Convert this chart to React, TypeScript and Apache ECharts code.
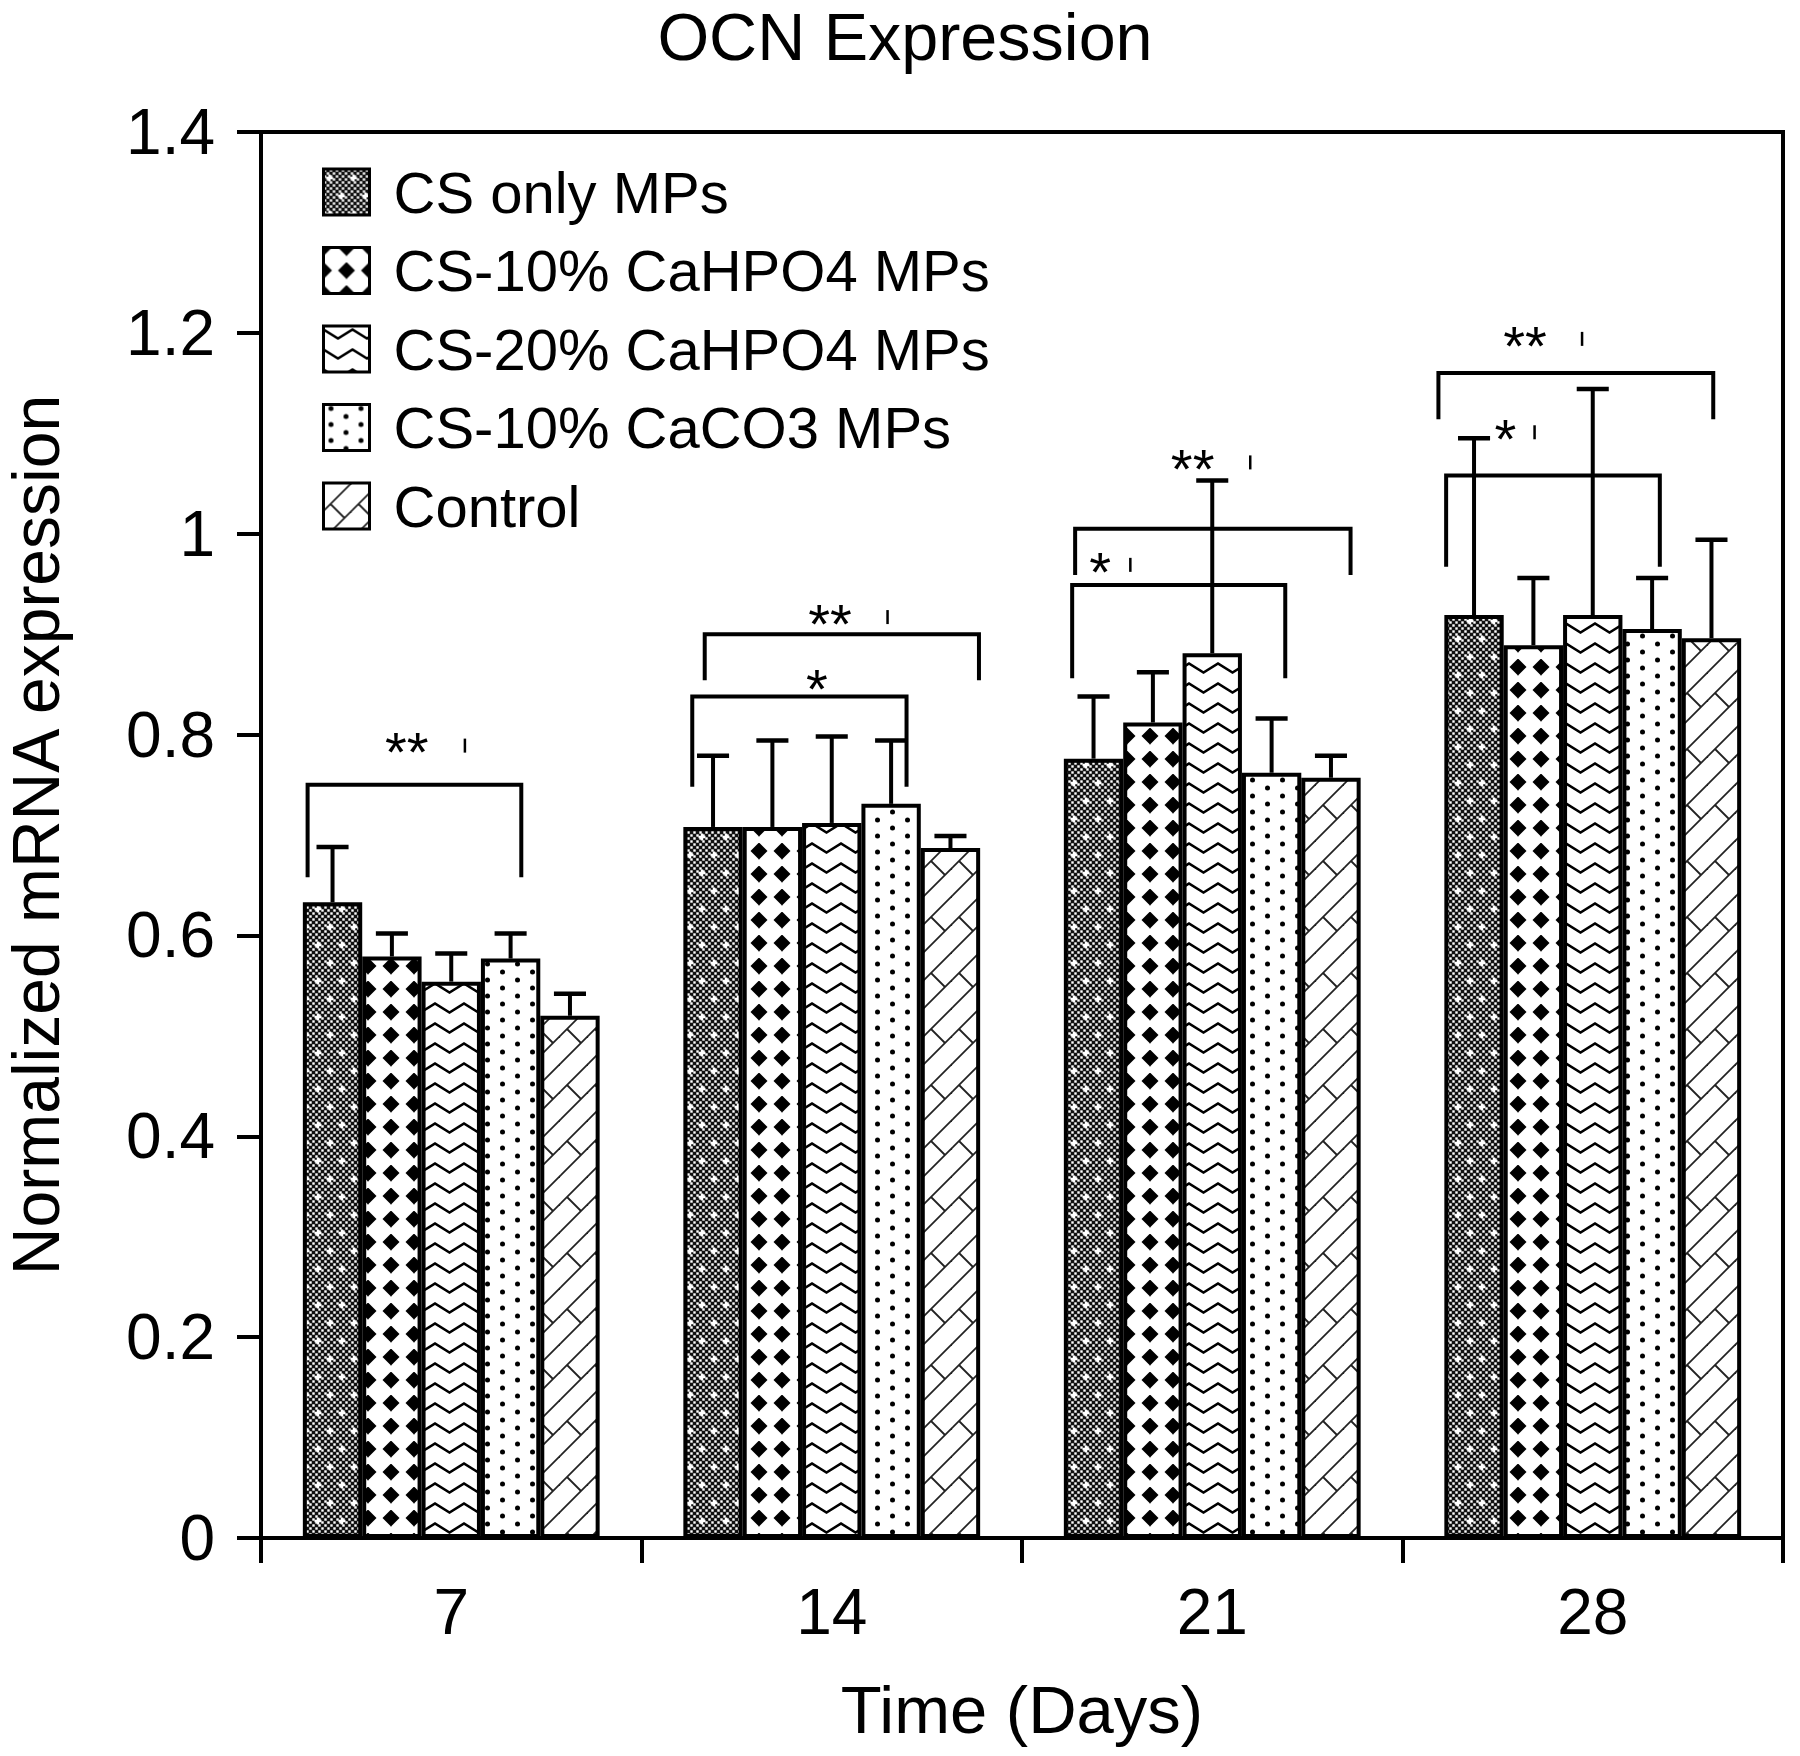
import React, { useEffect, useRef } from 'react';
import * as echarts from 'echarts';

// ---------- data ----------
const categories = ['7', '14', '21', '28'];
const seriesNames = ['CS only MPs', 'CS-10% CaHPO4 MPs', 'CS-20% CaHPO4 MPs', 'CS-10% CaCO3 MPs', 'Control'];

const csOnly = [0.633, 0.708, 0.776, 0.919];
const cs10CaHPO4 = [0.579, 0.708, 0.812, 0.889];
const cs20CaHPO4 = [0.554, 0.712, 0.881, 0.919];
const cs10CaCO3 = [0.577, 0.731, 0.762, 0.905];
const control = [0.52, 0.687, 0.757, 0.896];

// upper error (SD)
const csOnlyErr = [0.055, 0.071, 0.062, 0.176];
const cs10CaHPO4Err = [0.023, 0.086, 0.05, 0.067];
const cs20CaHPO4Err = [0.028, 0.086, 0.172, 0.225];
const cs10CaCO3Err = [0.025, 0.063, 0.054, 0.051];
const controlErr = [0.022, 0.012, 0.022, 0.098];

const yTicks = { min: 0, max: 1.4, interval: 0.2 };

// significance brackets (positions in bar slots: 0 = first bar of the group, 4 = last)
const sigCategory = [0, 1, 1, 2, 2, 3, 3];
const sigLabel = ['**', '**', '*', '**', '*', '**', '*'];
const sigFrom = [-0.42, -0.14, -0.35, -0.31, -0.36, -0.6, -0.47];
const sigTo = [3.18, 4.48, 3.26, 4.33, 3.23, 4.03, 3.13];
const sigTop = [0.75, 0.9, 0.838, 1.005, 0.949, 1.16, 1.058];
const sigLegEnd = [0.658, 0.854, 0.748, 0.959, 0.856, 1.114, 0.967];
const sigTextAt = [1.25, 1.97, 1.75, 1.67, 0.11, 0.86, 0.53];
const sigTextY = [0.789, 0.917, 0.852, 1.071, 0.969, 1.194, 1.101];
const sigMarkAt: (number | null)[] = [2.23, 2.94, null, 2.64, 0.62, 1.82, 1.02];

const values = [csOnly, cs10CaHPO4, cs20CaHPO4, cs10CaCO3, control];
const errors = [csOnlyErr, cs10CaHPO4Err, cs20CaHPO4Err, cs10CaCO3Err, controlErr];

// ---------- styling ----------
const FONT = '"Liberation Sans", Arial, Helvetica, sans-serif';
const CAT_GAP = 0.22;
const STAR_SIZE = 56;

function svgUrl(svg: string) {
  return 'data:image/svg+xml;charset=utf-8,' + encodeURIComponent(svg);
}
function pat(svg: string, w: number, h: number) {
  return { image: svgUrl(svg), repeat: 'repeat', imageWidth: w, imageHeight: h };
}

function meshPattern() {
  let cells = '';
  for (let i = 0; i < 8; i++) {
    for (let j = 0; j < 12; j++) {
      if ((i + j) % 2 === 0) cells += `<rect x='${i * 3 + 0.3}' y='${j * 3 + 0.3}' width='2.4' height='2.4' fill='#fff'/>`;
    }
  }
  const star = (x: number, y: number) =>
    `<path d='M${x - 1.2} ${y - 3.5}h2.4v2.3h2.3v2.4h-2.3v2.3h-2.4v-2.3h-2.3v-2.4h2.3z' fill='#fff'/>`;
  const svg = `<svg xmlns='http://www.w3.org/2000/svg' width='24' height='36'><rect width='24' height='36' fill='#111'/>${cells}${star(6, 9)}${star(18, 27)}</svg>`;
  return pat(svg, 24, 36);
}
function octagonPattern() {
  const svg = `<svg xmlns='http://www.w3.org/2000/svg' width='23' height='23'><rect width='23' height='23' fill='#000'/><polygon points='8.5,0 14.5,0 23,8.5 23,14.5 14.5,23 8.5,23 0,14.5 0,8.5' fill='#fff'/></svg>`;
  return pat(svg, 23, 23);
}
function zigzagPattern() {
  const svg = `<svg xmlns='http://www.w3.org/2000/svg' width='29' height='20'><rect width='29' height='20' fill='#fff'/><polyline points='-14.5,12.5 0,3.5 14.5,12.5 29,3.5 43.5,12.5' fill='none' stroke='#000' stroke-width='2.5'/></svg>`;
  return pat(svg, 29, 20);
}
function dotPattern() {
  const svg = `<svg xmlns='http://www.w3.org/2000/svg' width='30' height='16'><rect width='30' height='16' fill='#fff'/><circle cx='7.5' cy='4' r='2.5' fill='#000'/><circle cx='22.5' cy='12' r='2.5' fill='#000'/></svg>`;
  return pat(svg, 30, 16);
}
function brickPattern() {
  const st = `stroke='#222' stroke-width='1.8' fill='none'`;
  const svg = `<svg xmlns='http://www.w3.org/2000/svg' width='28' height='56'><rect width='28' height='56' fill='#fff'/>` +
    `<line x1='-4' y1='32' x2='32' y2='-4' ${st}/>` +
    `<line x1='-4' y1='60' x2='32' y2='24' ${st}/>` +
    `<line x1='-4' y1='4' x2='4' y2='-4' ${st}/>` +
    `<line x1='24' y1='60' x2='32' y2='52' ${st}/>` +
    `<line x1='7' y1='21' x2='21' y2='35' ${st}/>` +
    `</svg>`;
  return pat(svg, 28, 56);
}

const patterns = [meshPattern(), octagonPattern(), zigzagPattern(), dotPattern(), brickPattern()];

function buildOption() {
  const n = seriesNames.length;
  const barSeries = seriesNames.map((name, s) => ({
    type: 'bar',
    name,
    data: values[s],
    barGap: '0%',
    barCategoryGap: `${CAT_GAP * 100}%`,
    itemStyle: { color: patterns[s], borderColor: '#000', borderWidth: 4 },
    emphasis: { disabled: true },
    z: 2,
  }));

  const errData: number[][] = [];
  for (let s = 0; s < n; s++) {
    for (let c = 0; c < categories.length; c++) {
      errData.push([c, s, values[s][c], values[s][c] + errors[s][c]]);
    }
  }

  const errSeries = {
    type: 'custom',
    name: 'errors',
    data: errData,
    encode: { x: 0, y: 3 },
    z: 3,
    silent: true,
    renderItem: (params: any, api: any) => {
      const cat = api.value(0);
      const s = api.value(1);
      const mean = api.value(2);
      const up = api.value(3);
      const band = api.size([1, 0])[0];
      const bw = (band * (1 - CAT_GAP)) / n;
      const cx = api.coord([cat, 0])[0] + (s - (n - 1) / 2) * bw;
      const y0 = api.coord([cat, mean])[1];
      const y1 = api.coord([cat, up])[1];
      const half = bw * 0.27;
      return {
        type: 'group',
        children: [
          { type: 'line', shape: { x1: cx, y1: y0, x2: cx, y2: y1 }, style: { stroke: '#000', lineWidth: 4 } },
          { type: 'line', shape: { x1: cx - half, y1: y1, x2: cx + half, y2: y1 }, style: { stroke: '#000', lineWidth: 4.5 } },
        ],
      };
    },
  };

  const sigSeries = {
    type: 'custom',
    name: 'significance',
    data: sigCategory.map((c, i) => [c, sigTop[i]]),
    encode: { x: 0, y: 1 },
    z: 4,
    silent: true,
    renderItem: (params: any, api: any) => {
      const i = params.dataIndex;
      const cat = sigCategory[i];
      const band = api.size([1, 0])[0];
      const bw = (band * (1 - CAT_GAP)) / n;
      const cx = api.coord([cat, 0])[0];
      const px = (p: number) => cx + (p - (n - 1) / 2) * bw;
      const yTop = api.coord([cat, sigTop[i]])[1];
      const yLeg = api.coord([cat, sigLegEnd[i]])[1];
      const xl = px(sigFrom[i]);
      const xr = px(sigTo[i]);
      const ty = api.coord([cat, sigTextY[i]])[1];
      const children: any[] = [
        {
          type: 'polyline',
          shape: { points: [[xl, yLeg], [xl, yTop], [xr, yTop], [xr, yLeg]] },
          style: { stroke: '#000', lineWidth: 4, fill: null, lineJoin: 'miter' },
        },
        {
          type: 'text',
          x: px(sigTextAt[i]),
          y: ty + 0.11 * STAR_SIZE,
          style: {
            text: sigLabel[i],
            fill: '#000',
            fontSize: STAR_SIZE,
            lineHeight: 30,
            fontFamily: FONT,
            align: 'center',
            verticalAlign: 'middle',
          },
        },
      ];
      const m = sigMarkAt[i];
      if (m != null) {
        const mx = px(m);
        children.push({
          type: 'line',
          shape: { x1: mx, y1: ty - 7, x2: mx, y2: ty + 7 },
          style: { stroke: '#000', lineWidth: 2.5 },
        });
      }
      return { type: 'group', children };
    },
  };

  return {
    animation: false,
    backgroundColor: '#fff',
    title: {
      text: 'OCN Expression',
      left: 900,
      top: -2,
      textAlign: 'center',
      textStyle: { fontSize: 66.5, fontWeight: 'normal', color: '#000', fontFamily: FONT },
    },
    legend: {
      data: seriesNames,
      orient: 'vertical',
      left: 322,
      top: 163,
      padding: 0,
      itemWidth: 46,
      itemHeight: 46,
      itemGap: 20.5,
      icon: 'rect',
      selectedMode: false,
      itemStyle: { borderColor: '#000', borderWidth: 3 },
      textStyle: { fontSize: 58, color: '#000', fontFamily: FONT, padding: [0, 0, 0, 19] },
    },
    grid: {
      left: 261,
      right: 17,
      top: 132,
      bottom: 218,
      show: true,
      borderColor: '#000',
      borderWidth: 4,
      containLabel: false,
      outerBoundsMode: 'none',
    },
    xAxis: {
      type: 'category',
      data: categories,
      name: 'Time (Days)',
      nameLocation: 'middle',
      nameGap: 138,
      nameTextStyle: { fontSize: 67, color: '#000', fontFamily: FONT },
      axisLine: { lineStyle: { color: '#000', width: 4 } },
      axisTick: { show: true, length: 25, lineStyle: { color: '#000', width: 4 } },
      axisLabel: { fontSize: 64, color: '#000', fontFamily: FONT, margin: 42 },
      splitLine: { show: false },
    },
    yAxis: {
      type: 'value',
      min: yTicks.min,
      max: yTicks.max,
      interval: yTicks.interval,
      name: 'Normalized mRNA expression',
      nameLocation: 'middle',
      nameGap: 192,
      nameTextStyle: { fontSize: 66, color: '#000', fontFamily: FONT },
      axisLine: { show: true, lineStyle: { color: '#000', width: 4 } },
      axisTick: { show: true, length: 24, lineStyle: { color: '#000', width: 4 } },
      axisLabel: { fontSize: 64, color: '#000', fontFamily: FONT, margin: 46 },
      splitLine: { show: false },
    },
    series: [...barSeries, errSeries, sigSeries],
  };
}

export default function App() {
  const ref = useRef<HTMLDivElement>(null);
  useEffect(() => {
    document.body.style.margin = '0';
    if (!ref.current) return;
    const chart = echarts.init(ref.current, null, { renderer: 'svg' });
    chart.setOption(buildOption() as any);
    return () => chart.dispose();
  }, []);
  return (
    <div
      ref={ref}
      style={{ position: 'absolute', left: 0, top: 0, width: 1800, height: 1756, background: '#fff' }}
    />
  );
}
